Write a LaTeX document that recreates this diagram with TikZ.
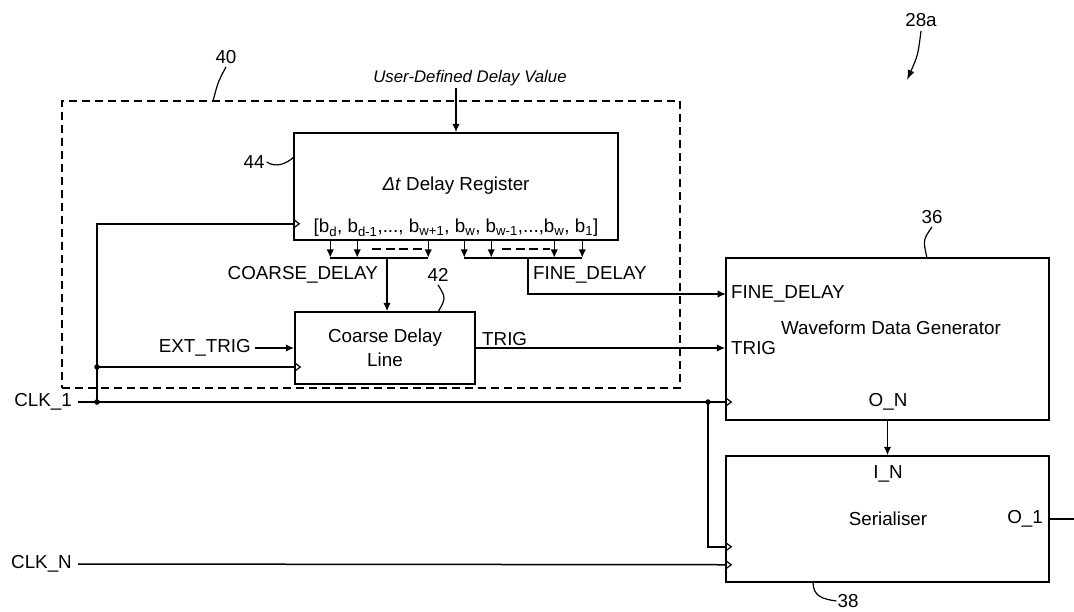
\documentclass[tikz,border=0pt]{standalone}
\usepackage{fontspec}
\setmainfont{Liberation Sans}
\usetikzlibrary{arrows.meta,calc}
\begin{document}
\begin{tikzpicture}[x=1pt,y=-1pt,
  box/.style={draw, line width=1.5pt, inner sep=0pt},
  wire/.style={line width=1.5pt},
  sig/.style={wire, -{Latex[length=8.5pt,width=7.5pt]}},
  lbl/.style={inner sep=0pt, font=\fontsize{18.8}{24}\selectfont},
  lead/.style={line width=1.2pt},
  junc/.style={circle, fill, inner sep=0pt, minimum size=5.5pt},
  clkmark/.pic={\draw[line width=1.2pt] (0,-4.5) -- (6,0) -- (0,4.5);}]
\useasboundingbox (0,0) rectangle (1074,611);

% group 40 (dashed outline)
\node[draw, line width=1.4pt, dash pattern=on 8pt off 5pt, inner sep=0pt,
      minimum width=618pt, minimum height=287pt] (grp) at (371,244.5) {};

% blocks
\node[box, minimum width=324pt, minimum height=107pt] (reg) at (456,186.5) {};
\node[box, lbl, minimum width=180pt, minimum height=72pt, align=center] (cdl) at (385,348) {Coarse Delay\\Line};
\node[box, minimum width=323pt, minimum height=162pt] (wdg) at (887.5,339) {};
\node[box, minimum width=323pt, minimum height=126pt] (ser) at (887.5,519) {};

% block texts
\node[lbl] (regname) at (456,186) {\textit{Δt} Delay Register};
\node[lbl] (bits) at (456,228) {[b\textsubscript{d}, b\textsubscript{d-1},..., b\textsubscript{w+1}, b\textsubscript{w}, b\textsubscript{w-1},...,b\textsubscript{w}, b\textsubscript{1}]};
\node[lbl, anchor=west] (wfine) at (731,294) {FINE\_DELAY};
\node[lbl, anchor=west] (wtrig) at (731,348) {TRIG};
\node[lbl] (wname) at (891,328) {Waveform Data Generator};
\node[lbl] (won) at (888,402) {O\_N};
\node[lbl] (sin) at (888,474) {I\_N};
\node[lbl] (sname) at (888,519) {Serialiser};
\node[lbl, anchor=east] (sout) at (1043,519) {O\_1};

% signal labels
\node[lbl, font=\fontsize{16.8}{20}\selectfont\itshape] (udv) at (470,78) {User-Defined Delay Value};
\node[lbl, anchor=east] (coarse) at (378,275) {COARSE\_DELAY};
\node[lbl, anchor=west] (fine) at (533,275) {FINE\_DELAY};
\node[lbl, anchor=east] (ext) at (251,348) {EXT\_TRIG};
\node[lbl, anchor=west] (trig) at (482,339) {TRIG};
\node[lbl, anchor=east] (clk1) at (72,402) {CLK\_1};
\node[lbl, anchor=east] (clkn) at (72,564) {CLK\_N};

% reference numerals
\node[lbl] (n40) at (226,57) {40};
\node[lbl] (n44) at (254,162) {44};
\node[lbl] (n42) at (438,275) {42};
\node[lbl] (n36) at (932,217) {36};
\node[lbl] (n38) at (848,601) {38};
\node[lbl] (n28) at (921,20) {28a};

% ports and junctions
\coordinate (udvin) at (456,88);
\coordinate (rclk) at ($(reg.south west)+(0,-17)$);
\coordinate (j1) at (97,402);
\coordinate (j2) at (97,367);
\coordinate (j3) at (708,402);
\coordinate (cbus) at (387,257);
\coordinate (fbus) at (528,257);
\coordinate (wfin) at (726,294);
\coordinate (sclk1) at ($(ser.south west)+(0,-36)$);
\coordinate (sclkn) at ($(ser.south west)+(0,-18)$);
\coordinate (out) at (1074,519);

% user value into register
\draw[sig] (udvin) -- (reg.north);

% register bit taps
\foreach \dx in {37,64,135,171,198,261,289}
  \draw[sig] ($(reg.south west)+(\dx,0)$) -- ++(0,17);
\draw[wire] ($(reg.south west)+(37,17)$) -- ($(reg.south west)+(135,17)$);
\draw[wire] ($(reg.south west)+(171,17)$) -- ($(reg.south west)+(289,17)$);
\draw[wire, dash pattern=on 9pt off 4.5pt] (372,249) -- (422,249);
\draw[wire, dash pattern=on 9pt off 4.5pt] (502,249) -- (550,249);

% coarse and fine delay buses
\draw[sig] (cbus) -- (cbus |- cdl.north);
\draw[sig] (fbus) |- (wfin);

% triggers
\draw[sig] ([xshift=4pt]ext.east) -- (ext.east -| cdl.west);
\draw[sig] (cdl.east) -- (cdl.east -| wdg.west);

% clock distribution
\draw[wire] ([xshift=6pt]clk1.east) -- (clk1.east -| wdg.west);
\draw[wire] (j1) |- (rclk);
\draw[wire] (j2) -- (j2 -| cdl.west);
\draw[wire] (j3) |- (sclk1);
\draw[wire] ([xshift=6pt]clkn.east) -- (sclkn);
\node[junc] (d1) at (j1) {};
\node[junc] (d2) at (j2) {};
\node[junc] (d3) at (j3) {};
\pic at (rclk) {clkmark};
\pic at (j2 -| cdl.west) {clkmark};
\pic at (clk1.east -| wdg.west) {clkmark};
\pic at (sclk1) {clkmark};
\pic at (sclkn) {clkmark};

% data path to serialiser and output
\draw[sig] (wdg.south) -- (ser.north);
\draw[wire] (ser.east) -- (out);

% leader lines
\draw[lead] ([yshift=-3pt]n40.south) .. controls (218,82) .. (213,101);
\draw[lead] ([xshift=2pt]n44.east) .. controls (276,168) and (286,164) .. (294,157);
\draw[lead] ([yshift=-3pt]n42.south) .. controls (446,298) .. (438,312);
\draw[lead] ([yshift=-3pt]n36.south) .. controls (923,240) .. (927,258);
\draw[lead] (813,582) .. controls (813,596) and (822,599) .. ([xshift=-1pt]n38.west);
\draw[lead, -{Latex[length=10pt,width=7pt]}] ([yshift=-4pt]n28.south) .. controls (918,55) .. (907,80);
\end{tikzpicture}
\end{document}
